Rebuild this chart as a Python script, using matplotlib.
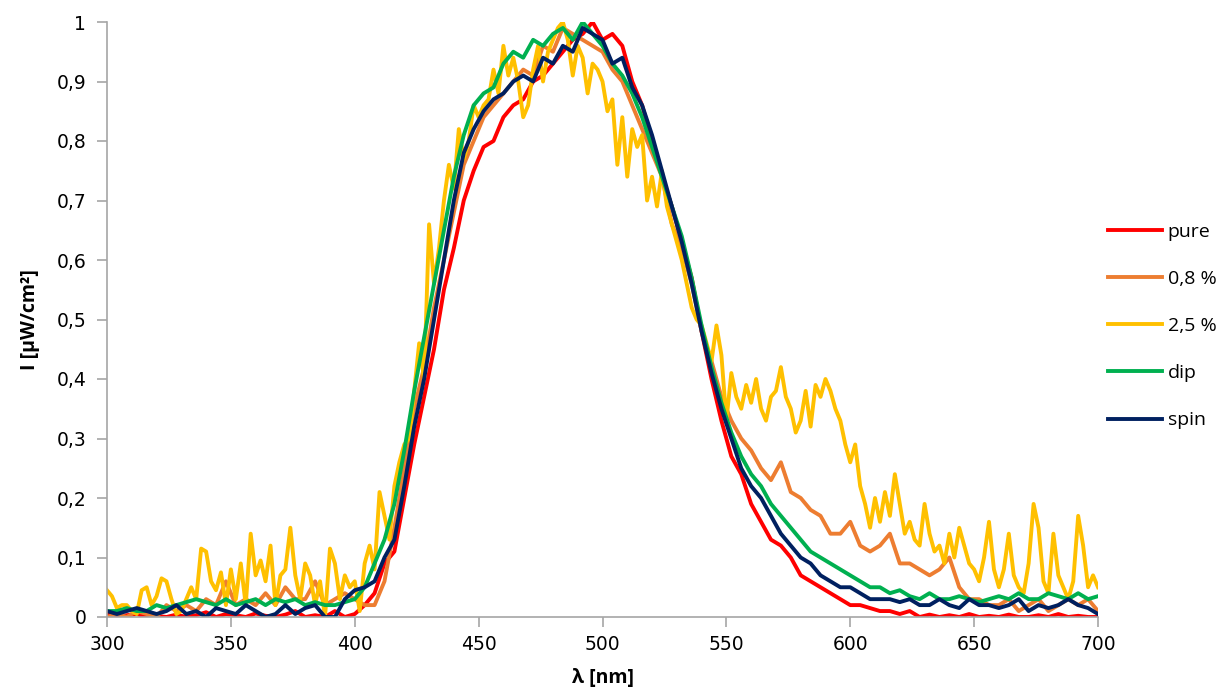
import numpy as np
import matplotlib
matplotlib.use("Agg")
import matplotlib.pyplot as plt

# wavelength grids (nm)
wl4 = list(range(300, 701, 4))
wl2 = list(range(300, 701, 2))

pure = [
    0.005, 0.0, 0.003, 0.005, 0.0, 0.002, 0.0, 0.004, 0.0, 0.003,
    0.008, 0.0, 0.005, 0.003, 0.0, 0.006, 0.002, 0.0, 0.004, 0.01,
    0.0, 0.003, 0.0, 0.01, 0.0, 0.005, 0.02, 0.04, 0.09, 0.11,
    0.20, 0.29, 0.37, 0.45, 0.55, 0.62, 0.70, 0.75, 0.79, 0.80,
    0.84, 0.86, 0.87, 0.90, 0.91, 0.93, 0.95, 0.97, 0.98, 1.0,
    0.97, 0.98, 0.96, 0.90, 0.86, 0.80, 0.74, 0.69, 0.63, 0.57,
    0.48, 0.40, 0.33, 0.27, 0.24, 0.19, 0.16, 0.13, 0.12, 0.10,
    0.07, 0.06, 0.05, 0.04, 0.03, 0.02, 0.02, 0.015, 0.01, 0.01,
    0.005, 0.01, 0.0, 0.004, 0.0, 0.003, 0.0, 0.005, 0.0, 0.002,
    0.0, 0.004, 0.0, 0.0, 0.003, 0.0, 0.005, 0.0, 0.002, 0.0,
    0.0]

pct08 = [
    0.0, 0.005, 0.0, 0.01, 0.005, 0.0, 0.02, 0.01, 0.02, 0.01,
    0.03, 0.02, 0.06, 0.02, 0.03, 0.02, 0.04, 0.02, 0.05, 0.03,
    0.03, 0.06, 0.02, 0.03, 0.04, 0.03, 0.02, 0.02, 0.06, 0.15,
    0.25, 0.35, 0.42, 0.52, 0.60, 0.68, 0.76, 0.80, 0.84, 0.86,
    0.88, 0.90, 0.92, 0.91, 0.96, 0.95, 0.99, 0.98, 0.97, 0.96,
    0.95, 0.92, 0.90, 0.86, 0.82, 0.78, 0.74, 0.66, 0.62, 0.56,
    0.48, 0.43, 0.37, 0.33, 0.30, 0.28, 0.25, 0.23, 0.26, 0.21,
    0.20, 0.18, 0.17, 0.14, 0.14, 0.16, 0.12, 0.11, 0.12, 0.14,
    0.09, 0.09, 0.08, 0.07, 0.08, 0.10, 0.05, 0.03, 0.03, 0.02,
    0.02, 0.03, 0.01, 0.02, 0.03, 0.01, 0.02, 0.03, 0.02, 0.03,
    0.01]

pct25 = [
    0.045, 0.035, 0.015, 0.02, 0.02, 0.01, 0.005, 0.045, 0.05, 0.02,
    0.035, 0.065, 0.06, 0.03, 0.005, 0.01, 0.03, 0.05, 0.03, 0.115,
    0.11, 0.06, 0.045, 0.075, 0.02, 0.08, 0.03, 0.09, 0.02, 0.14,
    0.07, 0.095, 0.06, 0.12, 0.02, 0.07, 0.08, 0.15, 0.07, 0.03,
    0.09, 0.07, 0.02, 0.06, 0.0, 0.115, 0.09, 0.03, 0.07, 0.05,
    0.06, 0.01, 0.09, 0.12, 0.08, 0.21, 0.17, 0.13, 0.22, 0.26,
    0.29, 0.30, 0.38, 0.46, 0.40, 0.66, 0.56, 0.62, 0.70, 0.76,
    0.72, 0.82, 0.77, 0.80, 0.86, 0.84, 0.86, 0.87, 0.92, 0.88,
    0.96, 0.91, 0.94, 0.90, 0.84, 0.86, 0.92, 0.96, 0.90, 0.95,
    0.97, 0.99, 1.0, 0.97, 0.91, 0.96, 0.94, 0.88, 0.93, 0.92,
    0.90, 0.85, 0.87, 0.76, 0.84, 0.74, 0.82, 0.79, 0.81, 0.70,
    0.74, 0.69, 0.75, 0.69, 0.66, 0.63, 0.60, 0.56, 0.52, 0.50,
    0.49, 0.46, 0.43, 0.49, 0.44, 0.33, 0.41, 0.37, 0.35, 0.39,
    0.36, 0.40, 0.35, 0.33, 0.37, 0.38, 0.42, 0.37, 0.35, 0.31,
    0.33, 0.38, 0.32, 0.39, 0.37, 0.40, 0.38, 0.35, 0.33, 0.29,
    0.26, 0.29, 0.22, 0.19, 0.15, 0.20, 0.16, 0.21, 0.17, 0.24,
    0.19, 0.14, 0.16, 0.13, 0.12, 0.19, 0.14, 0.11, 0.12, 0.09,
    0.14, 0.10, 0.15, 0.12, 0.09, 0.08, 0.06, 0.10, 0.16, 0.08,
    0.05, 0.08, 0.14, 0.07, 0.05, 0.04, 0.09, 0.19, 0.15, 0.06,
    0.04, 0.14, 0.07, 0.05, 0.03, 0.06, 0.17, 0.12, 0.05, 0.07,
    0.05]

dip = [
    0.01, 0.01, 0.015, 0.01, 0.01, 0.02, 0.015, 0.02, 0.025, 0.03,
    0.025, 0.02, 0.03, 0.02, 0.025, 0.03, 0.02, 0.03, 0.025, 0.03,
    0.02, 0.025, 0.02, 0.02, 0.025, 0.03, 0.05, 0.09, 0.13, 0.19,
    0.28, 0.38, 0.47, 0.56, 0.65, 0.74, 0.81, 0.86, 0.88, 0.89,
    0.93, 0.95, 0.94, 0.97, 0.96, 0.98, 0.99, 0.97, 1.0, 0.98,
    0.96, 0.93, 0.91, 0.88, 0.84, 0.79, 0.74, 0.69, 0.64, 0.57,
    0.49, 0.42, 0.36, 0.31, 0.27, 0.24, 0.22, 0.19, 0.17, 0.15,
    0.13, 0.11, 0.10, 0.09, 0.08, 0.07, 0.06, 0.05, 0.05, 0.04,
    0.045, 0.035, 0.03, 0.04, 0.03, 0.03, 0.035, 0.03, 0.025, 0.03,
    0.035, 0.03, 0.04, 0.03, 0.03, 0.04, 0.035, 0.03, 0.04, 0.03,
    0.035]

spin = [
    0.01, 0.005, 0.01, 0.015, 0.01, 0.005, 0.01, 0.02, 0.005, 0.01,
    0.0, 0.015, 0.01, 0.005, 0.02, 0.01, 0.0, 0.005, 0.02, 0.005,
    0.015, 0.02, 0.0, 0.0, 0.03, 0.045, 0.05, 0.06, 0.10, 0.13,
    0.22, 0.32, 0.40, 0.50, 0.60, 0.70, 0.78, 0.82, 0.85, 0.87,
    0.88, 0.90, 0.91, 0.90, 0.94, 0.93, 0.96, 0.95, 0.99, 0.98,
    0.97, 0.93, 0.94, 0.89, 0.86, 0.81, 0.75, 0.69, 0.63, 0.56,
    0.48, 0.41, 0.35, 0.30, 0.25, 0.22, 0.20, 0.17, 0.14, 0.12,
    0.10, 0.09, 0.07, 0.06, 0.05, 0.05, 0.04, 0.03, 0.03, 0.03,
    0.025, 0.03, 0.02, 0.02, 0.03, 0.02, 0.015, 0.03, 0.02, 0.02,
    0.015, 0.02, 0.03, 0.01, 0.02, 0.015, 0.02, 0.03, 0.02, 0.015,
    0.005]

labels = ["pure", "0,8 %", "2,5 %", "dip", "spin"]
colors = ["#FF0000", "#ED7D31", "#FFC000", "#00B050", "#002060"]
xticks = [300, 350, 400, 450, 500, 550, 600, 650, 700]
yticks = [0, 0.1, 0.2, 0.3, 0.4, 0.5, 0.6, 0.7, 0.8, 0.9, 1.0]
ytick_labels = ["0", "0,1", "0,2", "0,3", "0,4", "0,5", "0,6", "0,7", "0,8", "0,9", "1"]

fig = plt.figure(figsize=(12.29, 6.92), dpi=100)
ax = fig.add_axes([107/1229, 1-617/692, (1098-107)/1229, (617-22)/692])

series = [(wl4, pure), (wl4, pct08), (wl2, pct25), (wl4, dip), (wl4, spin)]
handles = []
for (xs, ys), lab, col in zip(series, labels, colors):
    h, = ax.plot(xs, ys, color=col, lw=2.8, label=lab, solid_joinstyle="round")
    handles.append(h)

ax.set_xlim(300, 700)
ax.set_ylim(0, 1)
ax.set_xticks(xticks)
ax.set_xticklabels([str(t) for t in xticks])
ax.set_yticks(yticks)
ax.set_yticklabels(ytick_labels)
for s in ["top", "right"]:
    ax.spines[s].set_visible(False)
for s in ["left", "bottom"]:
    ax.spines[s].set_color("#A6A6A6")
    ax.spines[s].set_linewidth(1.2)
ax.tick_params(axis="both", direction="out", length=7, width=1.2, color="#A6A6A6",
               labelsize=13.5, labelcolor="#000000")
ax.tick_params(axis="y", pad=8)
ax.tick_params(axis="x", pad=6)
for lbl in ax.get_xticklabels() + ax.get_yticklabels():
    lbl.set_family("DejaVu Sans")

ax.set_xlabel("λ [nm]", fontsize=14, fontweight="bold", family=["Open Sans", "DejaVu Sans"], labelpad=10)
ax.set_ylabel("I [µW/cm²]", fontsize=14, fontweight="bold", family=["Open Sans", "DejaVu Sans"], labelpad=12)

leg = fig.legend(handles=handles, labels=labels, loc="center left",
                 bbox_to_anchor=(1090/1229, 1-326/692), frameon=False,
                 prop={"family": "Open Sans", "size": 14},
                 handlelength=2.8, handletextpad=0.3, labelspacing=1.5)

fig.savefig("out.png", dpi=100, facecolor="white")
